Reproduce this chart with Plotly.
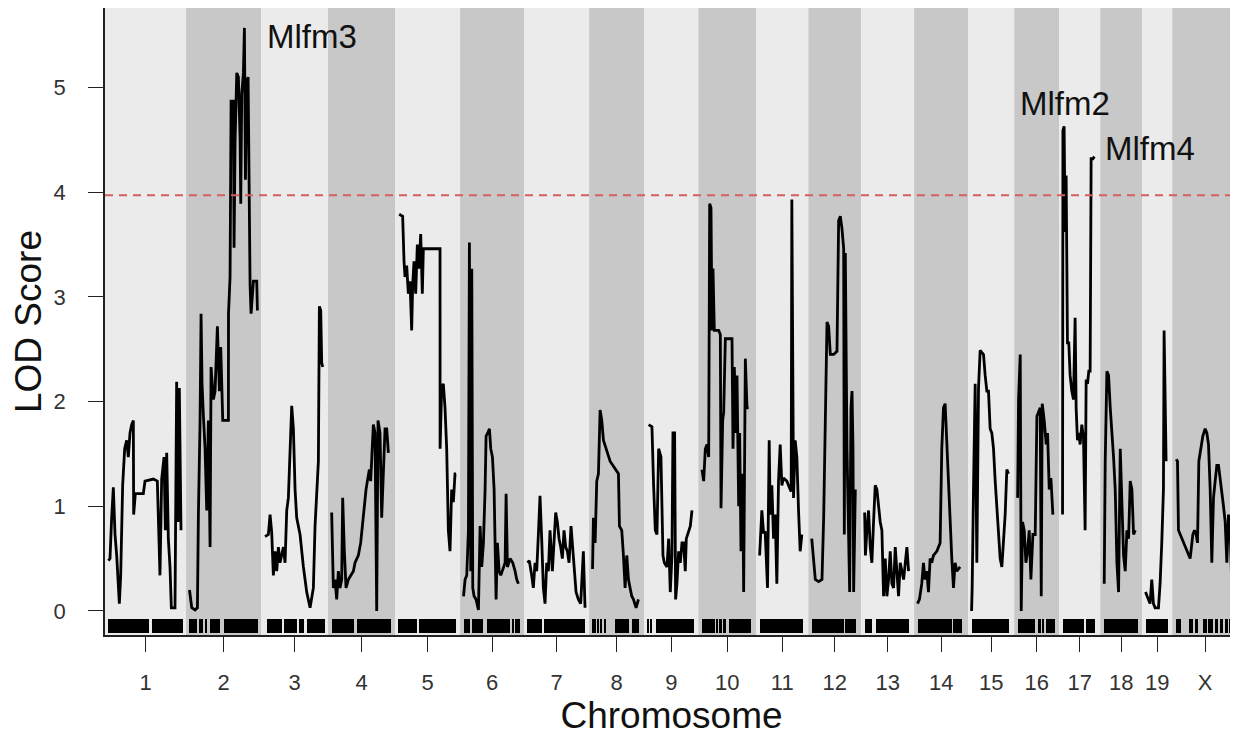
import plotly.graph_objects as go

# ---------------- data ----------------
chrom_names = ["1", "2", "3", "4", "5", "6", "7", "8", "9", "10",
               "11", "12", "13", "14", "15", "16", "17", "18", "19", "X"]
chrom_len = [195, 179, 158, 158, 153, 150, 153, 127, 124, 134,
             119, 121, 121, 124, 103, 100, 90, 92, 61, 155]
GAP = 18
threshold = 3.97

chr1_pos = [0, 4.1, 8.5, 12.9, 17.3, 21.7, 28.7, 32.2, 37.4, 42.7, 47.9, 52.3, 56.7, 61.1, 65.5, 66.3, 70.7,
            91.7, 96.1, 118, 128.5, 131.2, 135.5, 139.9, 146.1, 149.6, 153.1, 157.4, 161.8, 165.3, 174.9,
            179.3, 182.8, 186.3, 190.7]
chr1_lod = [0.48, 0.50, 0.89, 1.18, 0.73, 0.53, 0.07, 0.34, 1.20, 1.55, 1.63, 1.47, 1.70, 1.78, 1.82, 0.92, 1.12,
            1.12, 1.24, 1.26, 1.24, 0.92, 0.34, 1.26, 1.47, 0.77, 1.51, 0.69, 0.42, 0.03, 0.03,
            2.19, 0.85, 2.13, 0.77]

chr2_pos = [0, 5.9, 14.7, 20.8, 23.4, 27.8, 30.4, 33.0, 36.6, 40.9, 45.3, 49.7, 54.1, 56.7, 62.8, 67.2, 73.3,
            78.6, 82.1, 87.4, 102.3, 102.5, 106.6, 109.3, 115.4, 117.1, 119.8, 124.2, 128.5, 132.9, 134.7,
            137.3, 141.7, 144.3, 147.0, 150.4, 154.0, 155.7, 159.2, 161.8, 168.0, 176.7, 178.5]
chr2_lod = [0.20, 0.03, 0.01, 0.03, 0.92, 1.82, 2.84, 2.17, 1.86, 1.55, 0.96, 1.82, 0.61, 2.33, 2.02, 2.10, 2.72,
            2.10, 2.52, 1.82, 1.82, 2.84, 3.19, 4.87, 4.87, 3.47, 4.48, 5.14, 5.10, 4.51, 3.89,
            4.94, 5.14, 5.57, 4.12, 5.06, 5.10, 4.08, 3.11, 2.84, 3.15, 3.15, 2.87]

chr3_pos = [1.5, 10.3, 14.7, 19.0, 23.4, 27.8, 32.2, 36.6, 40.9, 49.7, 54.1, 58.5, 62.8, 67.2, 71.6, 76.0,
            80.4, 84.7, 93.5, 102.3, 111.0, 119.8, 128.5, 132.9, 137.3, 141.7, 144.3, 147.8, 150.4, 153.1]
chr3_lod = [0.71, 0.73, 0.92, 0.75, 0.34, 0.57, 0.38, 0.61, 0.46, 0.61, 0.46, 0.96, 1.08, 1.55, 1.96, 1.74,
            1.16, 0.89, 0.73, 0.42, 0.18, 0.03, 0.22, 0.81, 1.16, 1.43, 2.91, 2.87, 2.37, 2.33]

chr4_pos = [0.6, 5.0, 9.4, 13.8, 18.2, 22.5, 26.9, 29.5, 33.9, 38.3, 44.4, 50.6, 57.6, 62.0, 70.7, 76.8,
            82.1, 85.6, 90.9, 94.4, 99.6, 103.1, 106.6, 110.1, 114.5, 118.9, 122.4, 127.6, 132.0, 136.4,
            140.8, 145.2, 149.6]
chr4_lod = [0.94, 0.22, 0.30, 0.11, 0.38, 0.22, 0.30, 1.08, 0.57, 0.22, 0.30, 0.34, 0.38, 0.46, 0.53, 0.65,
            0.85, 0.96, 1.16, 1.24, 1.35, 1.24, 1.55, 1.78, 1.70, 0.00, 1.82, 1.70, 0.89, 1.39,
            1.74, 1.74, 1.51]

chr5_pos = [2.0, 11.1, 14.7, 17.3, 21.7, 26.0, 30.4, 34.8, 37.4, 40.9, 45.3, 49.7, 54.1, 58.5, 62.8, 65.5,
            69.8, 109.3, 109.5, 113.6, 118.0, 122.4, 126.8, 131.2, 135.5, 139.9, 144.3, 148.7, 151.5]
chr5_lod = [3.79, 3.77, 3.34, 3.19, 3.30, 3.03, 3.15, 2.68, 3.11, 3.34, 3.03, 3.50, 3.27, 3.60, 3.03, 3.46,
            3.46, 3.46, 1.55, 2.13, 2.17, 1.94, 1.55, 0.77, 0.57, 1.16, 1.04, 1.31, 1.31]

chr6_pos = [0, 4.1, 8.5, 12.9, 15.5, 19.0, 21.7, 24.3, 27.8, 33.0, 39.2, 43.6, 47.9, 52.3, 56.7, 59.3, 63.7,
            68.1, 71.6, 76.0, 80.4, 85.6, 89.1, 93.5, 97.9, 104.9, 109.3, 111.9, 115.4, 122.4, 129.4,
            135.5, 139.9, 144.3]
chr6_lod = [0.14, 0.30, 0.34, 0.77, 3.52, 0.38, 3.27, 0.22, 0.14, 0.11, 0.01, 0.81, 0.42, 0.65, 1.16, 1.67, 1.70,
            1.74, 1.55, 1.47, 1.16, 0.11, 0.65, 0.38, 0.34, 0.42, 0.46, 1.12, 0.42, 0.50, 0.46,
            0.38, 0.30, 0.26]

chr7_pos = [0, 5.0, 11.1, 15.5, 19.9, 24.3, 28.7, 33.0, 37.4, 41.8, 46.2, 50.6, 55.0, 59.3, 65.5, 69.8,
            74.2, 78.6, 83.0, 87.4, 91.7, 96.1, 100.5, 104.9, 109.3, 114.5, 118.9, 123.3, 127.7, 133.8,
            139.9, 146.9, 151.3]
chr7_lod = [0.46, 0.48, 0.34, 0.22, 0.46, 0.38, 0.73, 1.10, 0.69, 0.22, 0.07, 0.46, 0.38, 0.77, 0.38, 0.61,
            0.94, 0.85, 0.69, 0.61, 0.50, 0.77, 0.61, 0.57, 0.46, 0.81, 0.57, 0.38, 0.18, 0.11,
            0.07, 0.57, 0.03]

chr8_pos = [0, 2.4, 6.8, 11.1, 15.5, 19.9, 24.3, 28.7, 46.2, 68.1, 70.7, 76.8, 81.2, 85.6, 90.0, 94.4,
            98.7, 103.1, 107.5, 114.5, 120.6]
chr8_lod = [0.40, 0.89, 0.65, 1.24, 1.31, 1.92, 1.82, 1.63, 1.43, 1.31, 0.81, 0.77, 0.53, 0.22, 0.53, 0.30,
            0.22, 0.14, 0.11, 0.03, 0.11]

chr9_pos = [2.4, 11.1, 15.5, 19.9, 24.3, 28.7, 34.8, 40.1, 43.6, 50.6, 55.0, 59.3, 63.7, 66.3, 70.7, 73.3,
            76.8, 81.2, 85.6, 90.0, 94.4, 98.7, 101.4, 107.5, 111.9, 116.3]
chr9_lod = [1.78, 1.76, 1.20, 0.77, 0.73, 1.55, 1.47, 0.53, 0.46, 0.42, 0.69, 0.18, 0.53, 1.70, 1.70, 0.11,
            0.26, 0.57, 0.46, 0.65, 0.65, 0.38, 0.69, 0.77, 0.81, 0.96]

chr10_pos = [0.6, 5.0, 9.4, 13.8, 18.2, 20.8, 24.3, 26.9, 29.5, 33.0, 44.4, 48.8, 50.6, 55.0, 57.6, 62.0,
             75.1, 79.5, 82.1, 85.6, 90.0, 92.6, 97.0, 99.6, 103.1, 107.5, 110.1, 114.5, 118.9, 123.3]
chr10_lod = [1.35, 1.24, 1.55, 1.59, 1.47, 3.89, 3.85, 2.68, 3.27, 2.68, 2.68, 2.64, 0.98, 1.82, 1.90, 2.60,
             2.60, 2.60, 1.55, 2.33, 1.70, 2.25, 1.00, 1.70, 0.57, 1.31, 0.18, 2.41, 1.94, 1.94]

chr11_pos = [0, 1.5, 5.9, 10.3, 14.7, 20.8, 25.2, 27.8, 32.2, 36.6, 40.9, 45.3, 49.7, 54.1, 58.5, 62.8,
             71.6, 80.4, 83.0, 84.7, 87.4, 89.1, 93.5, 97.9, 102.3, 106.6, 111.0]
chr11_lod = [0.53, 0.69, 0.96, 0.75, 0.75, 0.22, 1.63, 0.92, 1.20, 0.69, 0.92, 0.26, 1.24, 1.59, 1.20, 1.27,
             1.24, 1.16, 1.14, 3.93, 1.10, 1.08, 1.63, 1.47, 0.96, 0.57, 0.73]

chr12_pos = [0, 2.0, 5.0, 9.4, 18.2, 26.9, 31.3, 35.7, 40.1, 44.4, 48.8, 57.6, 66.3, 70.7, 75.1, 79.5,
             83.9, 85.6, 88.2, 92.6, 97.0, 99.6, 103.1, 105.8, 108.4, 110.1, 114.5]
chr12_lod = [0.69, 0.61, 0.53, 0.30, 0.28, 0.30, 0.89, 2.02, 2.76, 2.72, 2.45, 2.45, 2.48, 3.73, 3.77, 3.65,
             3.46, 0.73, 3.42, 1.55, 0.77, 0.18, 1.94, 2.10, 1.55, 0.18, 1.16]

chr13_pos = [0, 2.0, 5.9, 10.3, 14.7, 19.0, 23.4, 27.8, 32.2, 36.6, 40.9, 45.3, 49.7, 54.1, 58.5, 62.8,
             67.2, 71.6, 76.0, 80.4, 84.7, 89.1, 93.5, 102.3, 111.0, 115.4]
chr13_lod = [0.94, 0.53, 0.77, 0.96, 0.61, 0.46, 0.85, 1.20, 1.16, 0.96, 0.85, 0.77, 0.14, 0.50, 0.14, 0.30,
             0.57, 0.26, 0.22, 0.61, 0.42, 0.14, 0.46, 0.30, 0.61, 0.38]

chr14_pos = [0, 5.0, 11.1, 15.5, 19.9, 24.3, 28.7, 33.0, 37.4, 41.8, 50.6, 59.3, 63.7, 68.1, 72.5, 76.8,
             81.2, 85.6, 90.0, 94.4, 98.7, 103.1, 111.9]
chr14_lod = [0.07, 0.11, 0.26, 0.46, 0.30, 0.38, 0.18, 0.50, 0.46, 0.53, 0.57, 0.65, 1.55, 1.94, 1.98, 1.63,
             1.16, 0.77, 0.50, 0.22, 0.46, 0.38, 0.42]

chr15_pos = [0, 1.5, 5.0, 9.4, 13.8, 18.2, 22.5, 26.9, 31.3, 35.7, 40.1, 44.4, 48.8, 53.2, 57.6, 62.0,
             66.3, 70.7, 75.1, 79.5, 83.9, 88.2, 92.6, 97.0]
chr15_lod = [0.00, 0.22, 1.16, 2.17, 0.46, 2.13, 2.49, 2.47, 2.45, 2.25, 2.10, 2.10, 1.74, 1.70, 1.55, 1.24,
             0.96, 0.77, 0.50, 0.42, 0.69, 0.92, 1.35, 1.31]

chr16_pos = [0, 2.4, 6.8, 9.4, 12.9, 17.3, 21.7, 26.0, 30.4, 34.8, 40.1, 46.2, 50.6, 55.0, 59.3, 62.0,
             64.6, 69.8, 75.1, 78.6, 83.0, 87.4, 92.6]
chr16_lod = [1.08, 2.02, 2.45, 0.00, 0.85, 0.77, 0.46, 0.57, 0.77, 0.30, 0.73, 0.73, 1.86, 1.90, 1.94, 0.14,
             1.98, 1.82, 1.59, 1.70, 1.16, 1.27, 0.92]

chr17_pos = [0, 1.0, 4.1, 6.8, 9.4, 12.9, 16.4, 19.9, 24.3, 28.7, 33.0, 35.7, 39.2, 42.7, 46.2, 50.6,
             55.0, 59.3, 62.0, 65.5, 69.0, 72.5, 75.1, 79.5, 83.9]
chr17_lod = [0.92, 4.59, 4.63, 3.62, 4.16, 2.56, 2.56, 2.25, 2.10, 2.02, 2.80, 1.94, 1.63, 1.70, 1.59, 1.78,
             1.66, 0.77, 2.21, 2.17, 2.29, 2.29, 4.32, 4.32, 4.34]

chr18_pos = [1.5, 4.1, 8.5, 12.9, 17.3, 21.7, 26.0, 30.4, 34.8, 39.2, 43.6, 47.9, 52.3, 56.7, 61.1, 65.5,
             69.8, 74.2, 78.6, 83.0]
chr18_lod = [0.26, 1.43, 2.29, 2.25, 1.94, 1.74, 1.47, 1.16, 0.46, 0.18, 1.55, 1.04, 0.53, 0.38, 0.77, 0.69,
             1.24, 1.16, 0.73, 0.77]

chr19_pos = [0, 3.3, 7.6, 12.0, 16.4, 20.8, 25.2, 34.0, 38.3, 42.7, 47.1, 48.8, 51.4, 54.1]
chr19_lod = [0.18, 0.14, 0.11, 0.07, 0.30, 0.07, 0.03, 0.03, 0.26, 0.65, 1.16, 2.68, 1.74, 1.43]

chrX_pos = [1.5, 5.0, 7.6, 12.0, 20.8, 29.5, 38.3, 45.3, 49.7, 54.1, 57.6, 61.1, 66.3, 71.6, 77.7, 82.1,
            86.5, 90.9, 95.2, 99.6, 104.0, 108.4, 112.8, 117.1, 121.5, 125.9, 130.3, 134.7, 139.0, 143.4,
            147.8, 152.2]
chrX_lod = [1.45, 1.43, 0.77, 0.73, 0.65, 0.57, 0.50, 0.73, 0.77, 0.73, 0.65, 1.43, 1.55, 1.67, 1.74, 1.70,
            1.59, 1.16, 0.46, 1.08, 1.24, 1.39, 1.39, 1.27, 1.16, 1.00, 0.85, 0.46, 0.92, 0.77,
            0.22, 0.26]

# marker rug: stretches (Mb) densely covered by genotyped markers
rug_chr1 = [[0, 107], [114, 195]]
rug_chr2 = [[0, 21], [26, 35], [40, 47], [54, 80], [91, 179]]
rug_chr3 = [[6, 45], [52, 85], [90, 104], [111, 158]]
rug_chr4 = [[1, 59], [66, 156]]
rug_chr5 = [[0, 48], [54, 151]]
rug_chr6 = [[0, 17], [22, 50], [61, 122], [130, 133], [136.5, 139], [143, 148]]
rug_chr7 = [[0, 37], [44, 151]]
rug_chr8 = [[0, 2], [6, 9], [14, 16], [22, 24], [29, 35], [59, 96], [103, 121]]
rug_chr9 = [[0, 2], [7, 12], [22, 121]]
rug_chr10 = [[0, 36], [40, 42], [46, 48], [51, 53], [56, 58], [61, 63], [71, 130]]
rug_chr11 = [[0, 115]]
rug_chr12 = [[0, 84], [88, 115]]
rug_chr13 = [[0, 19], [30, 117]]
rug_chr14 = [[1, 77], [80, 82], [84, 86], [88, 90], [94, 118]]
rug_chr15 = [[1, 99]]
rug_chr16 = [[2, 46], [53, 62], [65, 70], [74, 97]]
rug_chr17 = [[0, 57], [61, 86]]
rug_chr18 = [[2, 90]]
rug_chr19 = [[0, 58]]
rug_chrX = [[1, 15], [36, 47], [51, 60], [73, 82], [86, 99], [104, 112], [117, 125], [130, 137],
            [141, 148], [151, 155]]

qtl_labels = ["Mlfm3", "Mlfm2", "Mlfm4"]
qtl_label_chrom = ["3", "17", "18"]
qtl_label_pos = [124, 7, 122]
qtl_label_lod = [5.49, 4.85, 4.42]

# ---------------- assemble ----------------
curves_pos = [chr1_pos, chr2_pos, chr3_pos, chr4_pos, chr5_pos, chr6_pos, chr7_pos, chr8_pos, chr9_pos,
              chr10_pos, chr11_pos, chr12_pos, chr13_pos, chr14_pos, chr15_pos, chr16_pos, chr17_pos,
              chr18_pos, chr19_pos, chrX_pos]
curves_lod = [chr1_lod, chr2_lod, chr3_lod, chr4_lod, chr5_lod, chr6_lod, chr7_lod, chr8_lod, chr9_lod,
              chr10_lod, chr11_lod, chr12_lod, chr13_lod, chr14_lod, chr15_lod, chr16_lod, chr17_lod,
              chr18_lod, chr19_lod, chrX_lod]
rugs = [rug_chr1, rug_chr2, rug_chr3, rug_chr4, rug_chr5, rug_chr6, rug_chr7, rug_chr8, rug_chr9, rug_chr10,
        rug_chr11, rug_chr12, rug_chr13, rug_chr14, rug_chr15, rug_chr16, rug_chr17, rug_chr18, rug_chr19,
        rug_chrX]

offsets = []
acc = 0.0
for L in chrom_len:
    offsets.append(acc)
    acc += L + GAP
total = acc


def gx(ci, p):
    return offsets[ci] + GAP / 2 + p


YMIN, YMAX = -0.23, 5.76
RUG_LO, RUG_HI = -0.215, -0.075

fig = go.Figure()

# alternating chromosome bands
shapes = []
for i, L in enumerate(chrom_len):
    shapes.append(dict(type="rect", xref="x", yref="paper", x0=offsets[i], x1=offsets[i] + L + GAP,
                       y0=0, y1=1, fillcolor="#ebebeb" if i % 2 == 0 else "#c8c8c8",
                       line=dict(width=0), layer="below"))

# marker rug
rx, rw = [], []
for i, segs in enumerate(rugs):
    for a, b in segs:
        rx.append(gx(i, (a + b) / 2))
        rw.append(max(b - a, 0.9))
fig.add_trace(go.Bar(x=rx, y=[RUG_HI - RUG_LO] * len(rx), base=RUG_LO, width=rw,
                     marker=dict(color="black", line=dict(width=0)), hoverinfo="skip", showlegend=False))

# LOD curves
for i in range(len(chrom_names)):
    fig.add_trace(go.Scatter(x=[gx(i, p) for p in curves_pos[i]], y=curves_lod[i], mode="lines",
                             line=dict(color="black", width=2.8), showlegend=False,
                             name="chr" + chrom_names[i]))

# significance threshold
fig.add_trace(go.Scatter(x=[0, total], y=[threshold, threshold], mode="lines",
                         line=dict(color="#d45f5f", width=2, dash="8px,6px"), showlegend=False))

annotations = []
for lab, ch, p, l in zip(qtl_labels, qtl_label_chrom, qtl_label_pos, qtl_label_lod):
    ci = chrom_names.index(ch)
    annotations.append(dict(x=gx(ci, p), y=l, xref="x", yref="y", text=lab, showarrow=False,
                            xanchor="center", yanchor="middle",
                            font=dict(family="Liberation Sans, Arial", size=33, color="#111111")))

centers = [offsets[i] + (L + GAP) / 2 for i, L in enumerate(chrom_len)]

# the page adds an 8 px body margin, so the figure is 8 px smaller and shifted
fig.update_layout(
    width=1230, height=730,
    margin=dict(l=97, r=0, t=0, b=103),
    paper_bgcolor="white", plot_bgcolor="white",
    shapes=shapes, annotations=annotations,
    barmode="overlay", bargap=0,
    font=dict(family="Liberation Sans, Arial", color="#333333"),
    xaxis=dict(range=[0, total], tickvals=centers, ticktext=chrom_names, ticks="outside", ticklen=15,
               tickwidth=1.3, tickcolor="#222222", showgrid=False, zeroline=False, automargin=False,
               showline=True, linecolor="#222222", linewidth=1.5, mirror=True,
               tickfont=dict(size=22, color="#333333"), ticklabelstandoff=12,
               title=dict(text="Chromosome", font=dict(size=37, color="#111111"), standoff=0)),
    yaxis=dict(range=[YMIN, YMAX], tickvals=[0, 1, 2, 3, 4, 5], ticks="outside", ticklen=15,
               tickwidth=1.3, tickcolor="#222222", showgrid=False, zeroline=False, automargin=False,
               showline=True, linecolor="#222222", linewidth=1.5, mirror=True,
               tickfont=dict(size=22, color="#333333"), ticklabelstandoff=18,
               title=dict(text="LOD Score", font=dict(size=37, color="#111111"), standoff=6)),
)

fig.write_html("out.html")
